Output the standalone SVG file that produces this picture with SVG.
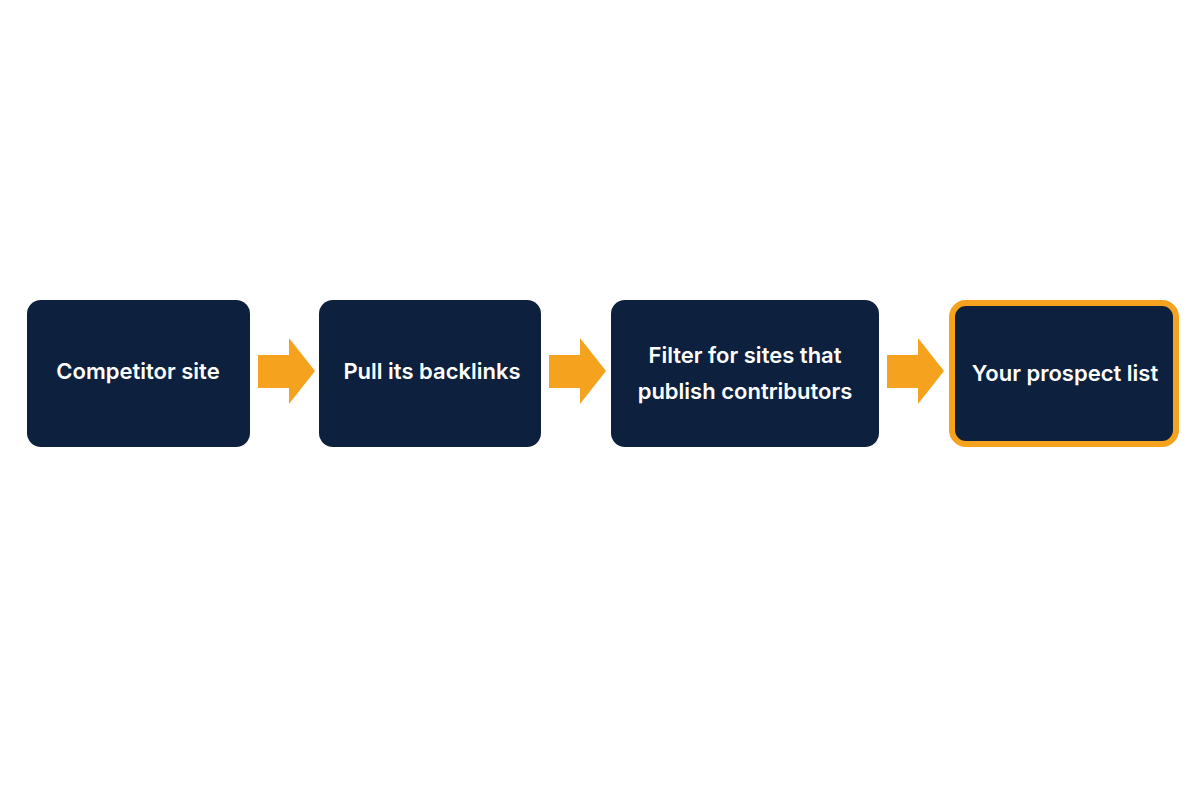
<svg xmlns="http://www.w3.org/2000/svg" width="1200" height="800" viewBox="0 0 1200 800">
<style>
.n{fill:#0d213f}
.t{font-family:Inter,"Liberation Sans",sans-serif;font-size:22px;font-weight:600;fill:#fff;text-anchor:middle}
.a{fill:#f5a31f}
</style>
<rect width="1200" height="800" fill="#fff"/>
<g id="n1"><rect class="n" x="27" y="300" width="223" height="147" rx="14"/><text class="t" x="138" y="379">Competitor site</text></g>
<g id="n2"><rect class="n" x="319" y="300" width="222" height="147" rx="14"/><text class="t" x="432" y="379">Pull its backlinks</text></g>
<g id="n3"><rect class="n" x="611" y="300" width="268" height="147" rx="14"/><text class="t" x="745" y="363">Filter for sites that</text><text class="t" x="745" y="399">publish contributors</text></g>
<g id="n4"><rect class="n" x="952" y="303" width="224" height="141" rx="14" stroke="#f5a31f" stroke-width="6"/><text class="t" x="1065" y="381">Your prospect list</text></g>
<g id="connectors">
<polygon class="a" points="258,355 289,355 289,338 315,371 289,404 289,388 258,388"/>
<polygon class="a" points="549,355 580,355 580,338 606,371 580,404 580,388 549,388"/>
<polygon class="a" points="887,355 918,355 918,338 944,371 918,404 918,388 887,388"/>
</g>
</svg>
